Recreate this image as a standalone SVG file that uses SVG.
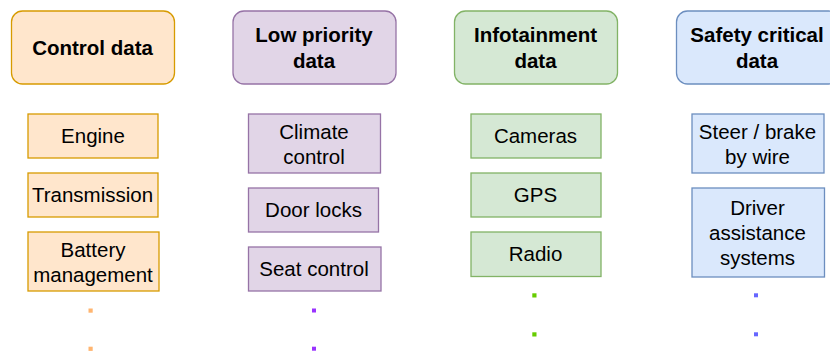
<svg xmlns="http://www.w3.org/2000/svg" width="830" height="352" viewBox="0 0 830 352">
  <style>
    text { font-family: "Liberation Sans", Arial, sans-serif; font-size: 20.5px; fill: #000; text-anchor: middle; }
    .hdr { font-weight: bold; }
    .org { fill: #ffe6cc; stroke: #d79b00; stroke-width: 1.3; }
    .pur { fill: #e1d5e7; stroke: #9673a6; stroke-width: 1.3; }
    .grn { fill: #d5e8d4; stroke: #82b366; stroke-width: 1.3; }
    .blu { fill: #dae8fc; stroke: #6c8ebf; stroke-width: 1.3; }
  </style>
  <rect width="830" height="352" fill="#ffffff"/>

  <!-- Control data column -->
  <g id="control-data">
    <rect class="org" x="11.5" y="11" width="163" height="73" rx="11"/>
    <text class="hdr" x="92.5" y="54.5">Control data</text>
  </g>
  <g id="engine">
    <rect class="org" x="28" y="114" width="130" height="44"/>
    <text x="93" y="143">Engine</text>
  </g>
  <g id="transmission">
    <rect class="org" x="28" y="173" width="130" height="44"/>
    <text x="92.5" y="202">Transmission</text>
  </g>
  <g id="battery">
    <rect class="org" x="28" y="232" width="131" height="59"/>
    <text x="93" y="256.5">Battery</text>
    <text x="93" y="281.5">management</text>
  </g>
  <g id="control-more">
    <rect x="88.5" y="308.5" width="4.2" height="4.2" fill="#ffb570"/>
    <rect x="88.5" y="346.7" width="4.2" height="4.2" fill="#ffb570"/>
  </g>

  <!-- Low priority data column -->
  <g id="low-priority">
    <rect class="pur" x="233" y="11" width="163" height="73" rx="11"/>
    <text class="hdr" x="314" y="41.5">Low priority</text>
    <text class="hdr" x="314" y="67.5">data</text>
  </g>
  <g id="climate">
    <rect class="pur" x="248.5" y="114" width="132" height="59"/>
    <text x="314" y="138.5">Climate</text>
    <text x="314" y="163.5">control</text>
  </g>
  <g id="door-locks">
    <rect class="pur" x="248.5" y="188" width="130" height="44"/>
    <text x="313.5" y="217">Door locks</text>
  </g>
  <g id="seat-control">
    <rect class="pur" x="248.5" y="247" width="132.5" height="44"/>
    <text x="314" y="276">Seat control</text>
  </g>
  <g id="low-more">
    <rect x="312" y="308.5" width="4" height="4" fill="#9933ff"/>
    <rect x="312" y="346.7" width="4" height="4" fill="#9933ff"/>
  </g>

  <!-- Infotainment data column -->
  <g id="infotainment">
    <rect class="grn" x="454.5" y="11" width="163" height="73" rx="11"/>
    <text class="hdr" x="535.5" y="41.5">Infotainment</text>
    <text class="hdr" x="535.5" y="67.5">data</text>
  </g>
  <g id="cameras">
    <rect class="grn" x="471" y="114" width="130" height="44"/>
    <text x="535.5" y="143">Cameras</text>
  </g>
  <g id="gps">
    <rect class="grn" x="471" y="173" width="130" height="44"/>
    <text x="535.5" y="202">GPS</text>
  </g>
  <g id="radio">
    <rect class="grn" x="471" y="232" width="130" height="44.5"/>
    <text x="535.5" y="261">Radio</text>
  </g>
  <g id="info-more">
    <rect x="532.3" y="293.3" width="4.2" height="4.2" fill="#66cc00"/>
    <rect x="532.3" y="332.3" width="4.2" height="4.2" fill="#66cc00"/>
  </g>

  <!-- Safety critical data column -->
  <g id="safety-critical">
    <rect class="blu" x="676.5" y="11" width="163" height="73" rx="11"/>
    <text class="hdr" x="757" y="41.5">Safety critical</text>
    <text class="hdr" x="757" y="67.5">data</text>
  </g>
  <g id="steer-brake">
    <rect class="blu" x="692" y="114" width="132" height="59"/>
    <text x="757.5" y="138.5">Steer / brake</text>
    <text x="757.5" y="163.5">by wire</text>
  </g>
  <g id="driver-assistance">
    <rect class="blu" x="692" y="188" width="132.5" height="89"/>
    <text x="757.5" y="214.5">Driver</text>
    <text x="757.5" y="239.5">assistance</text>
    <text x="757.5" y="264.5">systems</text>
  </g>
  <g id="safety-more">
    <rect x="754" y="293.3" width="4" height="4" fill="#6666ff"/>
    <rect x="754" y="332.3" width="4" height="4" fill="#6666ff"/>
  </g>

  <!-- no connectors in this chart -->
  <g id="connectors"></g>
</svg>
